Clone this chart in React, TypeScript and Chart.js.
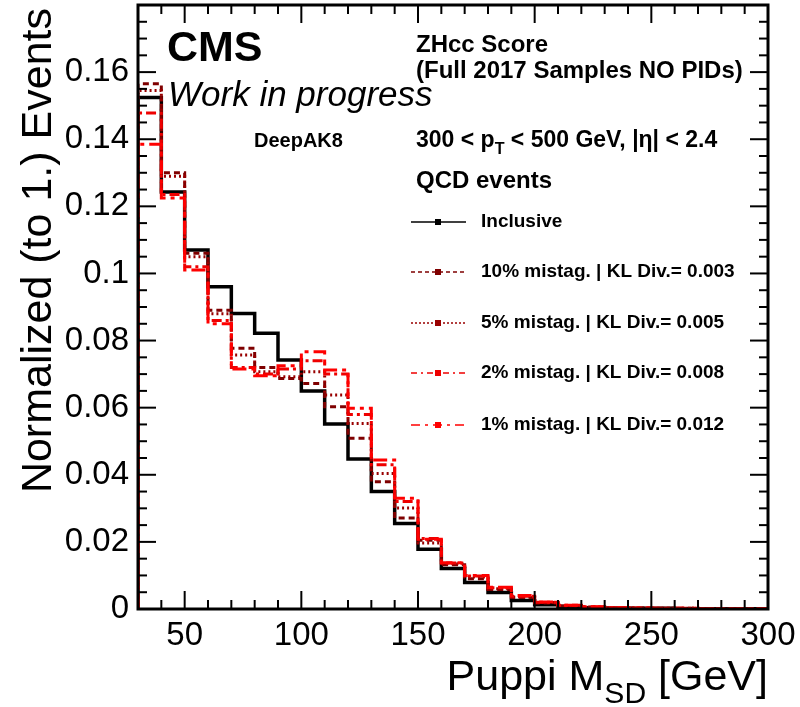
import React, { useEffect, useRef } from "react";
import { Chart, registerables } from "chart.js";

Chart.register(...registerables);

// ---------------- data ----------------
const binLowEdges = [30, 40, 50, 60, 70, 80, 90, 100, 110, 120, 130, 140, 150, 160, 170, 180, 190, 200, 210, 220, 230, 240, 250, 260, 270, 280, 290];
const binUpperEdge = 300;

const inclusive = [0.1524, 0.1243, 0.107, 0.096, 0.0881, 0.0822, 0.0742, 0.065, 0.0551, 0.0447, 0.035, 0.0255, 0.0178, 0.0121, 0.0079, 0.0049, 0.0025, 0.0013, 0.0007, 0.0004, 0.0003, 0.0002, 0.0002, 0.0001, 0.0001, 0.0001, 0.0001];
const mistag10 = [0.1565, 0.13, 0.106, 0.089, 0.0777, 0.072, 0.0687, 0.0672, 0.0603, 0.0509, 0.0379, 0.0271, 0.0205, 0.0132, 0.009, 0.0058, 0.0034, 0.0018, 0.001, 0.0006, 0.0004, 0.0003, 0.0002, 0.0002, 0.0001, 0.0001, 0.0001];
const mistag5 = [0.1545, 0.129, 0.105, 0.088, 0.0757, 0.0707, 0.0692, 0.0707, 0.0638, 0.0553, 0.0404, 0.0301, 0.0197, 0.0135, 0.0095, 0.006, 0.0036, 0.0019, 0.001, 0.0006, 0.0004, 0.0003, 0.0002, 0.0002, 0.0001, 0.0001, 0.0001];
const mistag2 = [0.1478, 0.1235, 0.102, 0.086, 0.072, 0.07, 0.0715, 0.074, 0.07, 0.058, 0.043, 0.032, 0.021, 0.0137, 0.0098, 0.0063, 0.0038, 0.002, 0.0011, 0.0006, 0.0004, 0.0003, 0.0002, 0.0002, 0.0001, 0.0001, 0.0001];
const mistag1 = [0.1385, 0.1225, 0.101, 0.085, 0.0715, 0.0695, 0.0725, 0.0767, 0.0712, 0.0598, 0.0444, 0.033, 0.0208, 0.0138, 0.01, 0.0065, 0.004, 0.0021, 0.0011, 0.0007, 0.0004, 0.0003, 0.0002, 0.0002, 0.0001, 0.0001, 0.0001];

const seriesLabels = [
  "Inclusive",
  "10% mistag. | KL Div.= 0.003",
  "5% mistag. | KL Div.= 0.005",
  "2% mistag. | KL Div.= 0.008",
  "1% mistag. | KL Div.= 0.012",
];

const xTickValues = [50, 100, 150, 200, 250, 300];
const yTickValues = [0, 0.02, 0.04, 0.06, 0.08, 0.1, 0.12, 0.14, 0.16];
const xMin = 30;
const xMax = 300;
const yMin = 0;
const yMax = 0.18;

// ---------------- styles ----------------
const FONT = "'Liberation Sans', Arial, Helvetica, sans-serif";
const seriesStyles = [
  { color: "#000000", width: 3.5, dash: [] as number[], legendDash: [] as number[] },
  { color: "#7f0000", width: 3, dash: [6, 4], legendDash: [4, 3] },
  { color: "#990000", width: 3, dash: [2, 3], legendDash: [2, 2] },
  { color: "#ee0000", width: 3, dash: [10, 4, 3, 4], legendDash: [6, 4, 2, 4] },
  { color: "#ff0000", width: 3, dash: [14, 5, 4, 5], legendDash: [9, 5, 3, 5] },
];
const seriesValues = [inclusive, mistag10, mistag5, mistag2, mistag1];

function histPoints(vals: number[]) {
  const pts: { x: number; y: number }[] = [{ x: binLowEdges[0], y: 0 }];
  binLowEdges.forEach((x, i) => pts.push({ x, y: vals[i] }));
  pts.push({ x: binUpperEdge, y: vals[vals.length - 1] });
  pts.push({ x: binUpperEdge, y: 0 });
  return pts;
}

function drawRich(ctx: CanvasRenderingContext2D, parts: { t: string; sub?: boolean }[], x: number, y: number, size: number, weight: string) {
  let cx = x;
  for (const p of parts) {
    const s = p.sub ? size * 0.7 : size;
    ctx.font = `${weight} ${s}px ${FONT}`;
    ctx.fillText(p.t, cx, p.sub ? y + size * 0.3 : y);
    cx += ctx.measureText(p.t).width;
  }
  return cx;
}

function measureRich(ctx: CanvasRenderingContext2D, parts: { t: string; sub?: boolean }[], size: number, weight: string) {
  let w = 0;
  for (const p of parts) {
    const s = p.sub ? size * 0.7 : size;
    ctx.font = `${weight} ${s}px ${FONT}`;
    w += ctx.measureText(p.t).width;
  }
  return w;
}

const overlayPlugin = {
  id: "rootOverlay",
  afterDatasetsDraw(chart: any) {
    const { ctx, chartArea: a, scales } = chart;
    const xs = scales.x;
    const ys = scales.y;
    ctx.save();
    ctx.strokeStyle = "#000";
    ctx.fillStyle = "#000";
    ctx.setLineDash([]);

    // ticks (inside the frame, all four sides)
    ctx.lineWidth = 2;
    const seg = (x1: number, y1: number, x2: number, y2: number) => {
      ctx.beginPath();
      ctx.moveTo(x1, y1);
      ctx.lineTo(x2, y2);
      ctx.stroke();
    };
    for (let v = xMin; v <= xMax; v += 10) {
      const px = xs.getPixelForValue(v);
      const len = v % 50 === 0 ? 18 : 9;
      seg(px, a.bottom, px, a.bottom - len);
      seg(px, a.top, px, a.top + len);
    }
    for (let i = 0; i * 0.005 <= yMax + 1e-9; i++) {
      const py = ys.getPixelForValue(i * 0.005);
      const len = i % 4 === 0 ? 18 : 9;
      seg(a.left, py, a.left + len, py);
      seg(a.right, py, a.right - len, py);
    }

    // frame
    ctx.lineWidth = 3;
    ctx.strokeRect(a.left, a.top, a.right - a.left, a.bottom - a.top);

    // CMS labels
    ctx.textAlign = "left";
    ctx.textBaseline = "alphabetic";
    ctx.font = `bold 43px ${FONT}`;
    ctx.fillText("CMS", 167, 61);
    ctx.font = `italic 35px ${FONT}`;
    ctx.fillText("Work in progress", 168, 106);

    ctx.font = `bold 24px ${FONT}`;
    ctx.fillText("ZHcc Score", 416, 52);
    ctx.fillText("(Full 2017 Samples NO PIDs)", 416, 78);
    ctx.font = `bold 20px ${FONT}`;
    ctx.fillText("DeepAK8", 254, 147);
    drawRich(ctx, [{ t: "300 < p" }, { t: "T", sub: true }, { t: " < 500 GeV, |\u03b7| < 2.4" }], 416, 147, 23, "bold");
    ctx.font = `bold 24px ${FONT}`;
    ctx.fillText("QCD events", 416, 188);

    // legend
    const rowY = [222, 272, 323, 373, 425];
    seriesLabels.forEach((label, i) => {
      const st = seriesStyles[i];
      const y = rowY[i];
      ctx.strokeStyle = st.color;
      ctx.fillStyle = st.color;
      ctx.lineWidth = 1.5;
      ctx.setLineDash(st.legendDash);
      seg(411, y, 466, y);
      ctx.setLineDash([]);
      ctx.fillRect(435, y - 3, 6, 6);
      ctx.fillStyle = "#000";
      ctx.font = `bold 19px ${FONT}`;
      ctx.textBaseline = "middle";
      ctx.fillText(label, 481, y);
      ctx.textBaseline = "alphabetic";
    });

    // x title
    ctx.fillStyle = "#000";
    const xt = [{ t: "Puppi M" }, { t: "SD", sub: true }, { t: " [GeV]" }];
    const w = measureRich(ctx, xt, 43, "normal");
    drawRich(ctx, xt, 768 - w, 690, 43, "normal");

    // y title
    ctx.save();
    ctx.translate(51, 8);
    ctx.rotate(-Math.PI / 2);
    ctx.font = `normal 43px ${FONT}`;
    ctx.textAlign = "right";
    ctx.fillText("Normalized (to 1.) Events", 0, 0);
    ctx.restore();

    ctx.restore();
  },
};

export default function App() {
  const ref = useRef<HTMLCanvasElement | null>(null);
  useEffect(() => {
    if (!ref.current) return;
    const datasets = seriesValues.map((vals, i) => ({
      label: seriesLabels[i],
      data: histPoints(vals),
      borderColor: seriesStyles[i].color,
      backgroundColor: seriesStyles[i].color,
      borderWidth: seriesStyles[i].width,
      borderDash: seriesStyles[i].dash,
      stepped: true as const,
      pointRadius: 0,
      fill: false,
      tension: 0,
      order: seriesValues.length - i,
    }));
    const chart = new Chart(ref.current, {
      type: "line",
      data: { datasets },
      options: {
        animation: false,
        responsive: false,
        devicePixelRatio: 1,
        layout: { padding: { top: 5, right: 32, left: 0, bottom: 0 } },
        plugins: { legend: { display: false }, tooltip: { enabled: false } },
        scales: {
          x: {
            type: "linear",
            min: xMin,
            max: xMax,
            grid: { display: false, drawTicks: false },
            border: { display: false },
            afterBuildTicks: (s: any) => {
              s.ticks = xTickValues.map((v) => ({ value: v }));
            },
            afterFit: (s: any) => {
              s.height = 98;
              s.paddingLeft = 0;
              s.paddingRight = 0;
            },
            ticks: {
              autoSkip: false,
              maxRotation: 0,
              padding: 7,
              color: "#000",
              font: { family: FONT, size: 33 },
              callback: (v: any) => String(v),
            },
          },
          y: {
            type: "linear",
            min: yMin,
            max: yMax,
            grid: { display: false, drawTicks: false },
            border: { display: false },
            afterBuildTicks: (s: any) => {
              s.ticks = yTickValues.map((v) => ({ value: v }));
            },
            afterFit: (s: any) => {
              s.width = 138;
              s.paddingTop = 0;
              s.paddingBottom = 0;
            },
            ticks: {
              autoSkip: false,
              padding: 9,
              color: "#000",
              font: { family: FONT, size: 33 },
              callback: (v: any) => String(Number(Number(v).toFixed(3))),
            },
          },
        },
      },
      plugins: [overlayPlugin],
    });
    return () => chart.destroy();
  }, []);
  return (
    <div style={{ position: "fixed", left: 0, top: 0, width: 800, height: 707, background: "#fff" }}>
      <canvas ref={ref} width={800} height={707} style={{ display: "block", width: 800, height: 707 }} />
    </div>
  );
}
